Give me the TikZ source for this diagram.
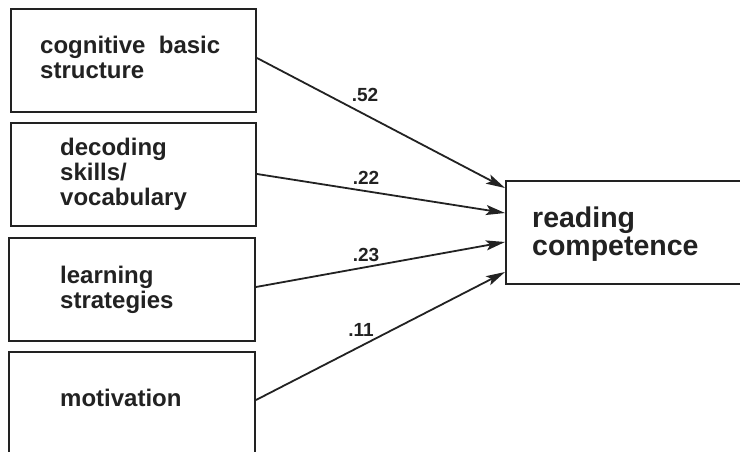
\documentclass[tikz,border=0pt]{standalone}
\usepackage{fontspec}
\setmainfont{Liberation Sans}
\usetikzlibrary{arrows.meta,calc}
\definecolor{ink}{HTML}{222222}
\tikzset{
  box/.style={draw=ink, line width=2pt, rectangle, inner sep=0pt},
  txt/.style={anchor=west, align=left, inner sep=0pt, text=ink, font=\bfseries\fontsize{24}{25}\selectfont},
  bigtxt/.style={anchor=west, align=left, inner sep=0pt, text=ink, font=\bfseries\fontsize{28.5}{28}\selectfont},
  path/.style={draw=ink, line width=1.8pt, -{Stealth[length=19pt,width=10pt,inset=4pt]}},
  coef/.style={inner sep=0pt, text=ink, font=\bfseries\fontsize{19}{19}\selectfont}
}
\begin{document}
\begin{tikzpicture}[x=1pt,y=-1pt]
\useasboundingbox (0,0) rectangle (740,452);
\fill[white] (0,0) rectangle (740,452);
\node[box, minimum width=245pt, minimum height=103pt] (b1) at (133.5,60.5) {};
\node[box, minimum width=245pt, minimum height=103pt] (b2) at (133.5,174.5) {};
\node[box, minimum width=246pt, minimum height=103pt] (b3) at (132,289.5) {};
\node[box, minimum width=246pt, minimum height=120pt] (b4) at (132,412) {};
\node[box, minimum width=250pt, minimum height=103pt] (rc) at (631,232.5) {};
\node[txt] (t1) at (40,57.5) {cognitive\ \ basic\\structure};
\node[txt] (t2) at (60,174) {decoding\\skills/\\vocabulary};
\node[txt] (t3) at (60,290) {learning\\strategies};
\node[txt] (t4) at (60,398) {motivation};
\node[bigtxt] (t5) at (532,234) {reading\\competence};
\coordinate (s1) at (b1.east |- 0,58);
\coordinate (s2) at (b2.east |- 0,174);
\coordinate (s3) at (b3.east |- 0,287);
\coordinate (s4) at (b4.east |- 0,400);
\coordinate (e1) at (rc.west |- 0,188);
\coordinate (e2) at (rc.west |- 0,213);
\coordinate (e3) at (rc.west |- 0,242);
\coordinate (e4) at (rc.west |- 0,272);
\draw[path] (s1) -- (e1);
\draw[path] (s2) -- (e2);
\draw[path] (s3) -- (e3);
\draw[path] (s4) -- (e4);
\node[coef] (c1) at (365,95) {.52};
\node[coef] (c2) at (366,178) {.22};
\node[coef] (c3) at (366,255) {.23};
\node[coef] (c4) at (361,330) {.11};
\end{tikzpicture}
\end{document}
